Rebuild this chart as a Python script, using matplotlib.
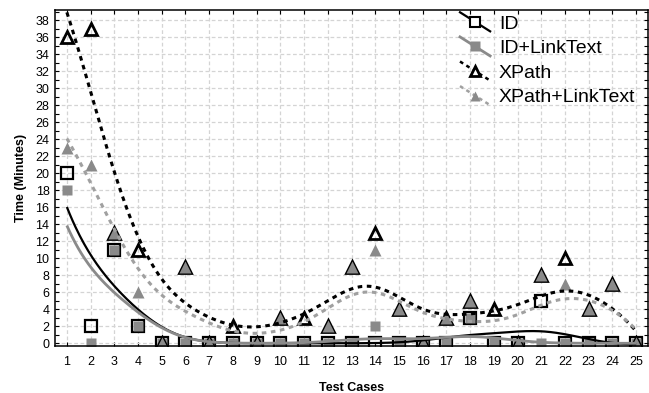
import numpy as np
import matplotlib
matplotlib.use("Agg")
import matplotlib.pyplot as plt
from matplotlib.lines import Line2D
from matplotlib.legend_handler import HandlerLine2D

plt.rcParams['font.family'] = ['Liberation Sans', 'DejaVu Sans']

# test cases 1..25, time in minutes
cases = np.arange(1, 26)
id_times = [20, 2, 11, 2, 0, 0, 0, 0, 0, 0, 0, 0, 0, 0, 0, 0, 0, 3, 0, 0, 5, 0, 0, 0, 0]
id_link = [18, 0, 11, 2, 0, 0, 0, 0, 0, 0, 0, 0, 0, 2, 0, 0, 0, 3, 0, 0, 0, 0, 0, 0, 0]
xpath = [36, 37, 13, 11, 0, 9, 0, 2, 0, 3, 3, 2, 9, 13, 4, 0, 3, 5, 4, 0, 8, 10, 4, 7, 0]
xpath_link = [23, 21, 13, 6, 0, 9, 0, 0, 0, 3, 0, 2, 9, 11, 4, 0, 3, 5, 0, 0, 8, 7, 4, 7, 0]
labels = ["ID", "ID+LinkText", "XPath", "XPath+LinkText"]

GRAY = '#8a8a8a'
LGRAY = '#a0a0a0'


def smooth(y, h=1.55):
    # local linear fit with gaussian weights
    y = np.asarray(y, dtype=float)
    xs = np.linspace(cases[0], cases[-1], 400)
    ys = []
    for x0 in xs:
        w = np.exp(-0.5 * ((cases - x0) / h) ** 2)
        c = np.polyfit(cases - x0, y, 1, w=np.sqrt(w))
        ys.append(c[1])
    return xs, np.array(ys)


class SlantHandler(HandlerLine2D):
    # legend line drawn on a slant, marker in the middle
    def create_artists(self, legend, orig_handle, xdescent, ydescent,
                       width, height, fontsize, trans):
        arts = super().create_artists(legend, orig_handle, xdescent, ydescent,
                                      width, height, fontsize, trans)
        mid = (height - ydescent) / 2
        x0 = -xdescent
        arts[0].set_data([x0, x0 + width / 2, x0 + width],
                         [mid + 0.7 * height, mid, mid - 0.7 * height])
        arts[0].set_markevery([1])
        return arts


fig = plt.figure(figsize=(6.49, 3.93), dpi=100)
ax = fig.add_axes([55 / 649, 1 - 346 / 393, 593 / 649, 336 / 393])

# markers
ax.plot(cases, id_times, ls='none', marker='s', ms=8.5, mfc='none', mec='black', mew=1.6)
ax.plot(cases, id_link, ls='none', marker='s', ms=7, mfc=GRAY, mec='none')
ax.plot(cases, xpath, ls='none', marker='^', ms=9, mfc='none', mec='black', mew=2)
ax.plot(cases, xpath_link, ls='none', marker='^', ms=8, mfc=GRAY, mec='none')

# smoothed curves
xs, ys = smooth(id_times)
ax.plot(xs, ys, color='black', lw=1.6, solid_capstyle='butt')
xs, ys = smooth(id_link)
ax.plot(xs, ys, color=GRAY, lw=2, solid_capstyle='butt')
xs, ys = smooth(xpath)
ax.plot(xs, ys, color='black', lw=2.2, ls=(0, (1.5, 1.5)))
xs, ys = smooth(xpath_link)
ax.plot(xs, ys, color=LGRAY, lw=2.2, ls=(0, (1.5, 1.5)))

ax.set_xlim(0.5, 25.5)
ax.set_ylim(-0.32, 39.18)
ax.set_xticks(cases)
ax.set_yticks(np.arange(0, 39, 2))
ax.set_yticks(np.arange(0, 40, 1), minor=True)
ax.grid(True, which='major', color='#d4d4d4', ls=(0, (3, 2)), lw=0.9)
ax.set_axisbelow(True)
ax.tick_params(axis='both', which='both', direction='in', top=True, right=True,
               length=3, width=0.8, labelsize=9)
ax.tick_params(axis='x', pad=7)
ax.tick_params(axis='y', pad=4)
for s in ax.spines.values():
    s.set_linewidth(1.1)

ax.set_xlabel("Test Cases", fontsize=9, fontweight='bold', labelpad=10)
ax.set_ylabel("Time (Minutes)", fontsize=9, fontweight='bold', labelpad=6)

handles = [
    Line2D([], [], color='black', lw=1.6, marker='s', ms=7.5, mfc='white', mec='black', mew=1.5),
    Line2D([], [], color=GRAY, lw=2, marker='s', ms=6.5, mfc=GRAY, mec='none'),
    Line2D([], [], color='black', lw=1.8, ls=(0, (1.5, 1.5)), marker='^', ms=7, mfc='white', mec='black', mew=2),
    Line2D([], [], color=LGRAY, lw=1.8, ls=(0, (1.5, 1.5)), marker='^', ms=7, mfc=GRAY, mec='none'),
]
ax.legend(handles, labels, loc='upper left', bbox_to_anchor=(460 / 649, 1 - 15 / 393),
          bbox_transform=fig.transFigure, frameon=False, fontsize=14,
          handlelength=1.55, handletextpad=0.45, labelspacing=0.36, borderpad=0,
          borderaxespad=0, handler_map={Line2D: SlantHandler()})

fig.savefig("out.png", dpi=100)
